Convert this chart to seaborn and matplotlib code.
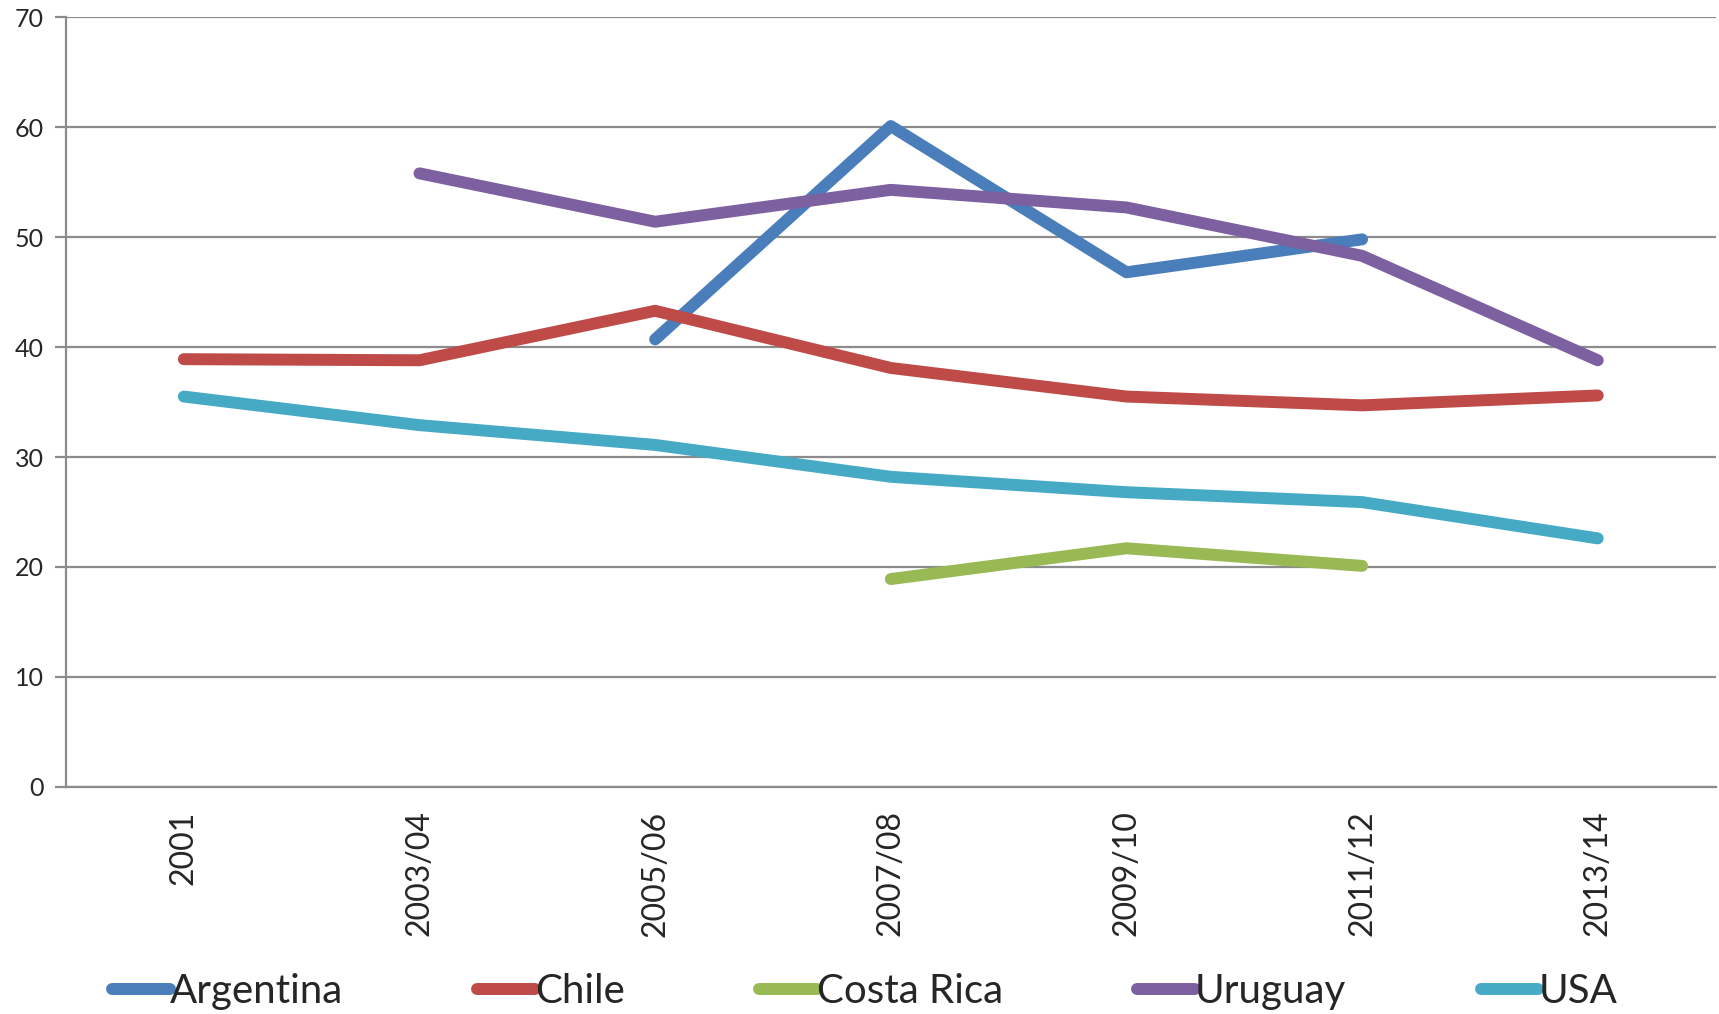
import numpy as np
import pandas as pd
import seaborn as sns
import matplotlib.pyplot as plt
from matplotlib.ticker import FixedLocator

periods = ['2001', '2003/04', '2005/06', '2007/08', '2009/10', '2011/12', '2013/14']
argentina = [np.nan, np.nan, 40.7, 60.1, 46.8, 49.8, np.nan]
chile = [38.9, 38.8, 43.3, 38.1, 35.5, 34.7, 35.6]
costa_rica = [np.nan, np.nan, np.nan, 18.9, 21.7, 20.1, np.nan]
uruguay = [np.nan, 55.8, 51.4, 54.3, 52.7, 48.3, 38.8]
usa = [35.5, 32.9, 31.1, 28.2, 26.8, 25.9, 22.6]

countries = ['Argentina', 'Chile', 'Costa Rica', 'Uruguay', 'USA']
colors = ['#4A7EBB', '#BE4B48', '#98B954', '#7D60A0', '#46AAC5']

series = dict(zip(countries, [argentina, chile, costa_rica, uruguay, usa]))
rows = []
for c, vals in series.items():
    for i, v in enumerate(vals):
        rows.append(dict(country=c, pos=i, value=v))
df = pd.DataFrame(rows).dropna()

sns.set_style('white')
plt.rcParams['font.family'] = ['Lato', 'DejaVu Sans']

fig = plt.figure(figsize=(17.19, 10.14), dpi=100)
ax = fig.add_axes([0.0384, 0.224, 0.9596, 0.759])

lw = 8.6
sns.lineplot(data=df, x='pos', y='value', hue='country', hue_order=countries,
             palette=colors, linewidth=lw, ax=ax, legend=False,
             solid_capstyle='round', solid_joinstyle='round')

ax.set_xlim(-0.5, 6.5)
ax.set_ylim(0, 70)
ax.set_yticks(range(0, 71, 10))
ax.yaxis.grid(True, color='#8c8c8c', linewidth=1.6)
ax.set_axisbelow(True)

ax.xaxis.set_major_locator(FixedLocator(np.arange(-0.5, 7, 1)))
ax.xaxis.set_minor_locator(FixedLocator(np.arange(0, 7)))
ax.set_xticklabels([], minor=False)
ax.set_xticklabels(periods, minor=True, rotation=90, fontsize=23)
ax.tick_params(axis='x', which='major', length=11, width=1.6, color='#8c8c8c', direction='out')
ax.tick_params(axis='x', which='minor', length=0, pad=17)
ax.tick_params(axis='y', length=8, width=1.6, color='#8c8c8c', labelsize=18, pad=8, left=True)
ax.set_xlabel('')
ax.set_ylabel('')

for s in ['top', 'right']:
    ax.spines[s].set_visible(False)
for s in ['left', 'bottom']:
    ax.spines[s].set_color('#8c8c8c')
    ax.spines[s].set_linewidth(1.6)

handles = [plt.Line2D([], [], color=col, linewidth=lw, solid_capstyle='round') for col in colors]
fig.legend(handles, countries, loc='center', bbox_to_anchor=(0.503, 0.022), ncol=5,
           frameon=False, fontsize=29, handlelength=1.43, handletextpad=0.0,
           columnspacing=3.34)

fig.savefig('out.png', dpi=100)
